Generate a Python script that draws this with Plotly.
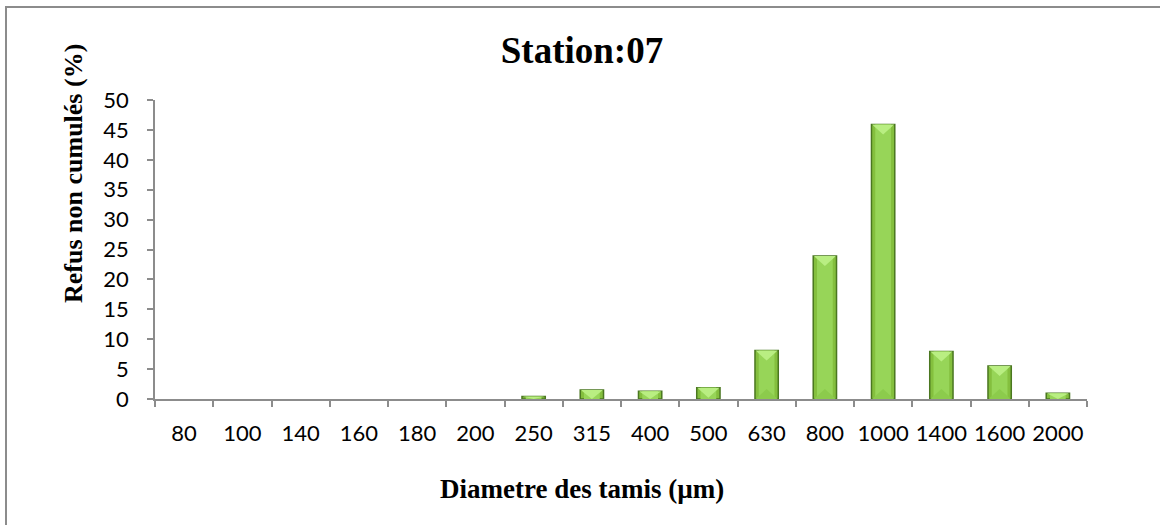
import plotly.graph_objects as go

# Sieve sizes (µm) and non-cumulative retained fraction (%)
sieves = ["80", "100", "140", "160", "180", "200", "250", "315", "400",
          "500", "630", "800", "1000", "1400", "1600", "2000"]
refus = [0, 0, 0, 0, 0, 0, 0.4, 1.5, 1.3, 1.9, 8.1, 23.9, 45.9, 7.95, 5.5, 0.95]
y_ticks = [0, 5, 10, 15, 20, 25, 30, 35, 40, 45, 50]

W, H = 1160, 525
ml, mr, mt, mb = 155, 73, 100, 126
pw, ph = W - ml - mr, H - mt - mb
y_max = 50
bar_w = 0.4

# empty sieves get no bar at all
shown = [v if v > 0 else None for v in refus]

fig = go.Figure()

# main bars with dark edge
fig.add_trace(go.Bar(
    x=sieves, y=shown, width=bar_w,
    marker=dict(color="#84bf3e", line=dict(color="#4a7720", width=1.5)),
    hovertemplate="%{x} µm: %{y}%<extra></extra>",
))
# lighter core for the bevelled look
fig.add_trace(go.Bar(
    x=sieves, y=shown, width=0.27,
    marker=dict(color="#97d558", line=dict(width=0)),
    hoverinfo="skip",
))

# bevel facets: light wedge at the top, faint wedge at the base of each bar
bevel = 10 * y_max / ph  # about 10 px expressed in data units
half = bar_w / 2 - 0.01
for i, v in enumerate(refus):
    if v <= 0:
        continue
    d = min(bevel, v)
    fig.add_shape(type="path", xref="x", yref="y", layer="above",
                  path=f"M {i - half} {v} L {i + half} {v} L {i} {v - d} Z",
                  fillcolor="#b9ee82", line=dict(width=0))
    if v > 2 * bevel:
        fig.add_shape(type="path", xref="x", yref="y", layer="above",
                      path=f"M {i - half} 0 L {i + half} 0 L {i} {d} Z",
                      fillcolor="#8ccb4c", line=dict(width=0))

serif = "'Liberation Serif', 'Times New Roman', serif"
axis_font = dict(family="Lato, Carlito, 'Noto Sans', sans-serif", size=22, color="#000")

fig.update_layout(
    width=W, height=H,
    margin=dict(l=ml, r=mr, t=mt, b=mb),
    paper_bgcolor="white", plot_bgcolor="white",
    showlegend=False, barmode="overlay",
    title=dict(text="<b>Station:07</b>", x=582 / W, xanchor="center",
               y=1 - 50 / H, yanchor="middle",
               font=dict(family=serif, size=37, color="#000")),
    xaxis=dict(
        type="category", tickfont=axis_font, tickangle=0,
        showline=True, linecolor="#8c8c8c", linewidth=1.5,
        ticks="outside", tickson="boundaries", ticklen=6, tickcolor="#8c8c8c", tickwidth=1.5,
        ticklabelstandoff=14, showgrid=False, zeroline=False,
    ),
    yaxis=dict(
        range=[0, y_max], tickvals=y_ticks, tickfont=axis_font,
        showline=True, linecolor="#8c8c8c", linewidth=1.5,
        ticks="outside", ticklen=6, tickcolor="#8c8c8c", tickwidth=1.5,
        ticklabelstandoff=14, showgrid=False, zeroline=False,
    ),
)

# axis titles, placed relative to the whole chart frame
fig.add_annotation(text="<b>Diametre des tamis (µm)</b>", showarrow=False,
                   xref="paper", yref="paper",
                   x=(582 - ml) / pw, y=-(489 - mt - ph) / ph,
                   xanchor="center", yanchor="middle",
                   font=dict(family=serif, size=27, color="#000"))
fig.add_annotation(text="<b>Refus non cumulés (%)</b>", showarrow=False,
                   xref="paper", yref="paper", textangle=-90,
                   x=(73 - ml) / pw, y=1 - (174 - mt) / ph,
                   xanchor="center", yanchor="middle",
                   font=dict(family=serif, size=26, color="#000"))

# chart frame (left and top edges fall inside the page)
fig.add_shape(type="rect", xref="paper", yref="paper",
              x0=(6 - ml) / pw, x1=(W + 10 - ml) / pw,
              y0=-(mb + 10) / ph, y1=1 + (mt - 7) / ph,
              line=dict(color="#8c8c8c", width=2), fillcolor="rgba(0,0,0,0)")

fig.write_html("out.html")
